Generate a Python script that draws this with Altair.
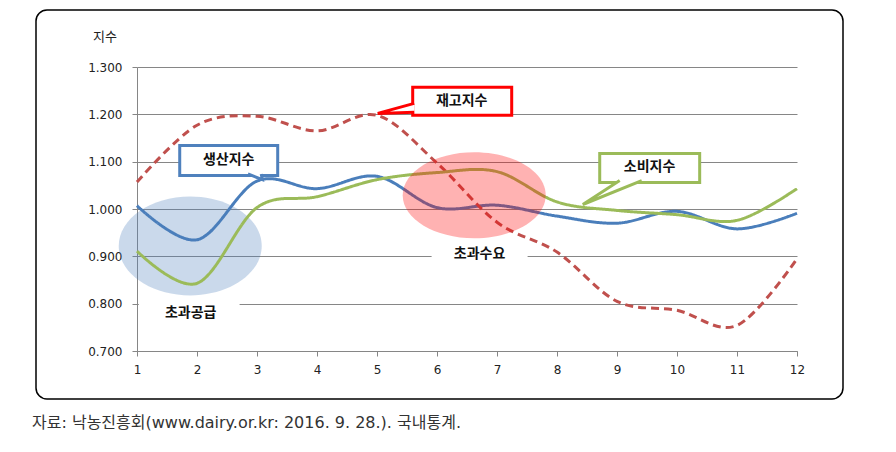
import altair as alt
import pandas as pd

# ---------------- data ----------------
months = list(range(1, 13))
production = [1.007, 0.935, 1.059, 1.043, 1.069, 1.003, 1.008, 0.985, 0.970, 0.995, 0.958, 0.991]
inventory = [1.057, 1.177, 1.196, 1.165, 1.198, 1.097, 0.972, 0.909, 0.805, 0.786, 0.754, 0.895]
consumption = [0.911, 0.843, 1.003, 1.026, 1.062, 1.077, 1.079, 1.015, 0.997, 0.988, 0.976, 1.043]

series_names = ["생산지수", "재고지수", "소비지수"]
series_values = [production, inventory, consumption]
series_colors = ["#4a7ebb", "#c0504d", "#9bbb59"]
series_dash = [[1, 0], [8, 5], [1, 0]]

y_ticks = [0.7, 0.8, 0.9, 1.0, 1.1, 1.2, 1.3]

FONT = "Noto Sans CJK KR"
NUM_FONT = "DejaVu Sans"
GRID = "#868686"

# ---------------- shared encodings ----------------
x_enc = alt.X(
    "x:Q",
    scale=alt.Scale(domain=[1, 12], nice=False, zero=False),
    axis=alt.Axis(values=months, grid=False, title=None, format="d", tickSize=5,
                  labelPadding=8, domainColor=GRID, tickColor=GRID, labelFont=NUM_FONT,
                  labelFontSize=12, labelColor="#222222", labelFlush=False, labelOverlap=False),
)
y_enc = alt.Y(
    "y:Q",
    scale=alt.Scale(domain=[0.7, 1.3], nice=False, zero=False),
    axis=alt.Axis(values=y_ticks, format=".3f", grid=True, gridColor=GRID, title=None,
                  tickSize=5, labelPadding=10, domainColor=GRID, tickColor=GRID,
                  labelFont=NUM_FONT, labelFontSize=12, labelColor="#222222",
                  labelFlush=False, labelOverlap=False),
)


def ellipse_path(ratio):
    k = 0.5523
    r = ratio
    return (f"M -1 0 C -1 {-k*r:.4f} {-k:.4f} {-r:.4f} 0 {-r:.4f} "
            f"C {k:.4f} {-r:.4f} 1 {-k*r:.4f} 1 0 "
            f"C 1 {k*r:.4f} {k:.4f} {r:.4f} 0 {r:.4f} "
            f"C {-k:.4f} {r:.4f} -1 {k*r:.4f} -1 0 Z")


layers = []

# outer rounded frame
frame = alt.Chart(pd.DataFrame({"a": [0]})).mark_rect(
    fillOpacity=0, stroke="#000000", strokeWidth=1.5, cornerRadius=11
).encode(x=alt.value(-101), x2=alt.value(706), y=alt.value(-57), y2=alt.value(332))
layers.append(frame)

# blue "excess supply" ellipse (below lines)
blue_ell = alt.Chart(pd.DataFrame({"x": [1.887], "y": [0.922]})).mark_point(
    shape=ellipse_path(49.5 / 71.5), size=143 * 143, filled=True, color="#4f81bd",
    opacity=0.3, strokeWidth=0
).encode(x=x_enc, y=y_enc)
layers.append(blue_ell)

# white label backgrounds (hide gridlines)
label_bg = pd.DataFrame({"x": [1.03, 5.91], "x2": [2.71, 7.51],
                         "y": [0.812, 0.929], "y2": [0.755, 0.878]})
bg = alt.Chart(label_bg).mark_rect(color="white").encode(x=x_enc, x2="x2:Q", y=y_enc, y2="y2:Q")
layers.append(bg)

# series lines
for name, vals, col, dash in zip(series_names, series_values, series_colors, series_dash):
    df = pd.DataFrame({"x": months, "y": vals})
    ln = alt.Chart(df).mark_line(
        color=col, strokeWidth=3, strokeDash=dash, interpolate="cardinal", tension=0
    ).encode(x=x_enc, y=y_enc)
    layers.append(ln)

# pink "excess demand" ellipse (over lines)
pink_ell = alt.Chart(pd.DataFrame({"x": [6.62], "y": [1.029]})).mark_point(
    shape=ellipse_path(43 / 71.5), size=143 * 143, filled=True, color="#ff0000",
    opacity=0.3, strokeWidth=0
).encode(x=x_enc, y=y_enc)
layers.append(pink_ell)

# region labels
region_labels = pd.DataFrame({"x": [1.895, 6.71], "y": [0.781, 0.904], "t": ["초과공급", "초과수요"]})
rl = alt.Chart(region_labels).mark_text(font=FONT, fontSize=14, fontWeight="bold", color="#111111").encode(
    x=x_enc, y=y_enc, text="t:N")
layers.append(rl)

# callouts
callouts = [
    # name, color, box (x, x2, y, y2), wedge (base1, tip, base2), text pos
    ("생산지수", "#4f81bd", (1.712, 3.345, 1.1344, 1.0709),
     [(2.85, 1.0740), (3.09, 1.0620), (3.07, 1.0740)], (2.528, 1.1026)),
    ("재고지수", "#ff0000", (5.595, 7.245, 1.2571, 1.1978),
     [(5.62, 1.2232), (5.012, 1.2020), (5.62, 1.2042)], (6.412, 1.2274)),
    ("소비지수", "#9bbb59", (8.712, 10.378, 1.1174, 1.0561),
     [(9.045, 1.0600), (8.43, 1.0095), (9.412, 1.0600)], (9.542, 1.0878)),
]
for name, col, box, wedge, tpos in callouts:
    bdf = pd.DataFrame({"x": [box[0]], "x2": [box[1]], "y": [box[2]], "y2": [box[3]]})
    layers.append(alt.Chart(bdf).mark_rect(fill="white", stroke=col, strokeWidth=3).encode(
        x=x_enc, x2="x2:Q", y=y_enc, y2="y2:Q"))
    wdf = pd.DataFrame({"x": [p[0] for p in wedge], "y": [p[1] for p in wedge], "o": [0, 1, 2]})
    layers.append(alt.Chart(wdf).mark_line(fill="white", stroke=col, strokeWidth=3,
                                           strokeJoin="miter").encode(
        x=x_enc, y=y_enc, order="o:Q"))
    tdf = pd.DataFrame({"x": [tpos[0]], "y": [tpos[1]], "t": [name]})
    layers.append(alt.Chart(tdf).mark_text(font=FONT, fontSize=14, fontWeight="bold",
                                           color="#111111").encode(x=x_enc, y=y_enc, text="t:N"))

# y-axis unit label and source note
unit = alt.Chart(pd.DataFrame({"t": ["지수"]})).mark_text(
    font=FONT, fontSize=13, color="#222222").encode(x=alt.value(-32), y=alt.value(-30), text="t:N")
layers.append(unit)

source = alt.Chart(pd.DataFrame({"t": ["자료: 낙농진흥회(www.dairy.or.kr: 2016. 9. 28.). 국내통계."]})).mark_text(
    font="DejaVu Sans, Noto Sans CJK KR", fontSize=16, color="#333333", align="left", baseline="middle"
).encode(x=alt.value(-105), y=alt.value(356), text="t:N")
layers.append(source)

chart = alt.layer(*layers).properties(
    width=660, height=284,
    autosize=alt.AutoSizeParams(type="none"),
    padding={"left": 129, "top": 59, "right": 80, "bottom": 86},
).configure_view(stroke=None)

chart.save("out.html", embed_options={"renderer": "svg", "actions": False})
